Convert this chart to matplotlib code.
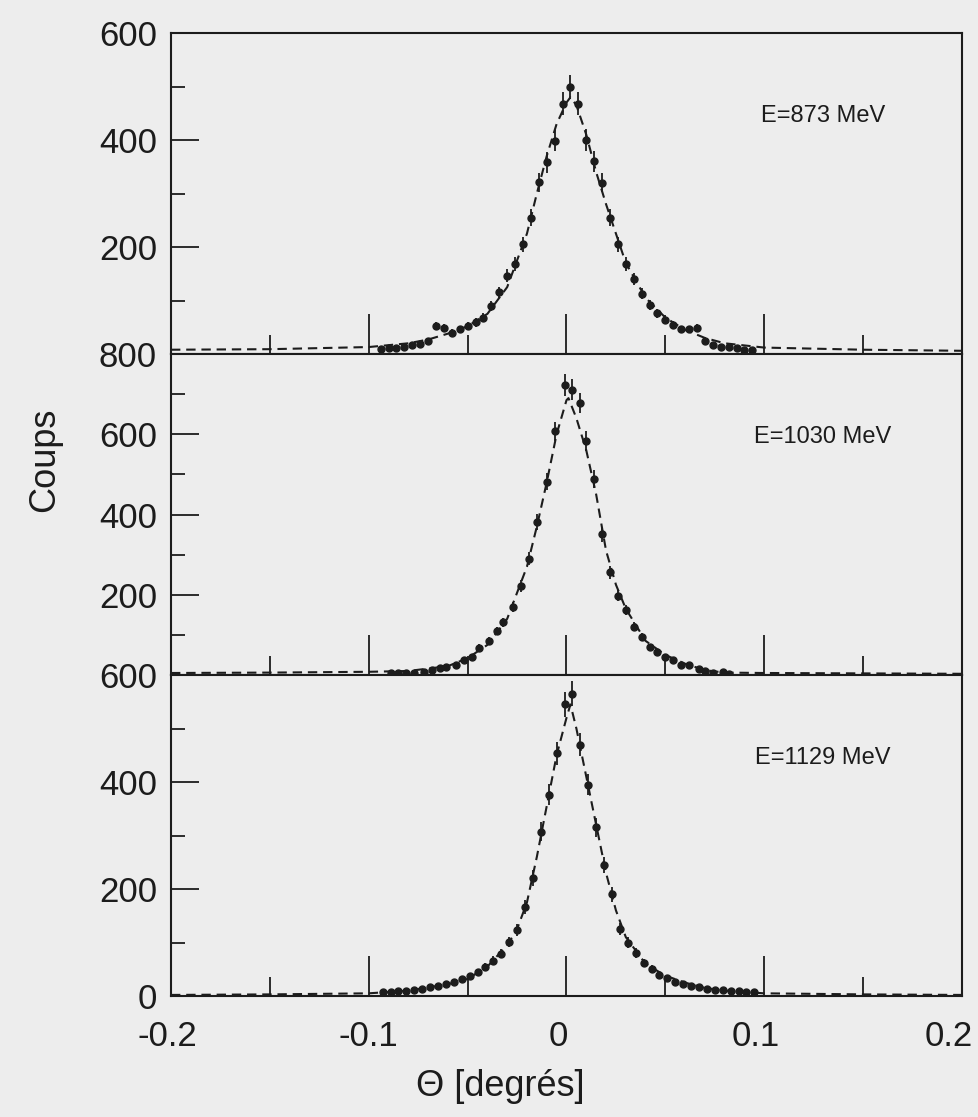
import numpy as np
import matplotlib
matplotlib.use("Agg")
import matplotlib.pyplot as plt
import matplotlib.transforms as mtransforms
from matplotlib.ticker import FixedLocator, MultipleLocator

# ---------------- data ----------------
labels = ["E=873 MeV", "E=1030 MeV", "E=1129 MeV"]

theta1 = [-0.094, -0.090, -0.086, -0.082, -0.078, -0.074, -0.070, -0.066, -0.062, -0.058,
          -0.054, -0.050, -0.046, -0.042, -0.038, -0.034, -0.030, -0.026, -0.022, -0.018,
          -0.014, -0.010, -0.006, -0.002, 0.002, 0.006, 0.010, 0.014, 0.018, 0.022,
          0.026, 0.030, 0.034, 0.038, 0.042, 0.046, 0.050, 0.054, 0.058, 0.062,
          0.066, 0.070, 0.074, 0.078, 0.082, 0.086, 0.090, 0.094]
counts1 = [10, 11, 12, 14, 17, 18, 25, 52, 49, 40,
           46, 53, 59, 68, 90, 115, 146, 168, 205, 255,
           321, 358, 399, 468, 499, 468, 400, 360, 320, 255,
           205, 168, 140, 113, 91, 76, 64, 55, 46, 46,
           49, 25, 16, 14, 13, 12, 8, 7]

theta2 = [-0.089, -0.085, -0.081, -0.077, -0.072, -0.068, -0.064, -0.061, -0.056, -0.052,
          -0.048, -0.044, -0.039, -0.035, -0.032, -0.027, -0.023, -0.019, -0.015, -0.010,
          -0.006, -0.001, 0.003, 0.007, 0.010, 0.014, 0.018, 0.022, 0.026, 0.030,
          0.034, 0.038, 0.042, 0.046, 0.050, 0.054, 0.058, 0.062, 0.067, 0.070,
          0.074, 0.079, 0.082]
counts2 = [4, 4, 4, 5, 8, 12, 17, 21, 26, 38,
           46, 68, 85, 110, 131, 169, 223, 290, 382, 482,
           607, 723, 711, 678, 583, 488, 351, 256, 198, 161,
           120, 95, 70, 58, 46, 38, 26, 26, 14, 10,
           6, 7, 3]

theta3 = [-0.093, -0.089, -0.085, -0.081, -0.077, -0.073, -0.069, -0.065, -0.061, -0.057,
          -0.053, -0.049, -0.045, -0.041, -0.037, -0.033, -0.029, -0.025, -0.021, -0.017,
          -0.013, -0.009, -0.005, -0.001, 0.003, 0.007, 0.011, 0.015, 0.019, 0.023,
          0.027, 0.031, 0.035, 0.039, 0.043, 0.047, 0.051, 0.055, 0.059, 0.063,
          0.067, 0.071, 0.075, 0.079, 0.083, 0.087, 0.091, 0.095]
counts3 = [7, 8, 9, 10, 12, 14, 16, 19, 23, 27,
           31, 37, 44, 54, 66, 79, 101, 123, 167, 220,
           307, 376, 454, 545, 565, 470, 395, 315, 245, 190,
           125, 100, 80, 62, 50, 40, 33, 27, 22, 19,
           17, 14, 12, 11, 10, 9, 8, 7]

fit_theta1 = [-0.2, -0.15, -0.1, -0.08, -0.07, -0.06, -0.05, -0.04, -0.03, -0.02, -0.015, -0.01,
              -0.005, 0.0, 0.002, 0.005, 0.01, 0.015, 0.02, 0.03, 0.04, 0.05, 0.06, 0.07, 0.08,
              0.1, 0.15, 0.2]
fit1 = [8, 9, 13, 20, 27, 38, 52, 75, 125, 225, 300, 370,
        430, 470, 480, 465, 410, 340, 280, 170, 105, 68, 45, 30, 20,
        12, 8, 6]

fit_theta2 = [-0.2, -0.15, -0.1, -0.08, -0.06, -0.05, -0.04, -0.03, -0.02, -0.015, -0.01, -0.005,
              0.0, 0.001, 0.005, 0.01, 0.015, 0.02, 0.025, 0.03, 0.04, 0.05, 0.06, 0.07, 0.08,
              0.1, 0.15, 0.2]
fit2 = [5, 6, 8, 10, 22, 42, 75, 140, 270, 370, 480, 600,
        685, 690, 640, 560, 450, 310, 225, 165, 85, 50, 28, 12, 6,
        5, 4, 3]

fit_theta3 = [-0.2, -0.15, -0.1, -0.08, -0.06, -0.05, -0.04, -0.03, -0.025, -0.02, -0.015, -0.01,
              -0.005, 0.0, 0.002, 0.005, 0.01, 0.015, 0.02, 0.025, 0.03, 0.04, 0.05, 0.06, 0.07,
              0.08, 0.1, 0.15, 0.2]
fit3 = [2, 3, 5, 10, 22, 32, 55, 95, 125, 175, 260, 355,
        450, 520, 545, 500, 410, 320, 230, 160, 110, 60, 38, 25, 15,
        10, 5, 3, 2]

ymax = [600, 800, 600]
ytick_labels = [["", "200", "400", "600"],
                ["", "200", "400", "600", "800"],
                ["0", "200", "400", "600"]]
xtick_vals = [-0.2, -0.1, 0, 0.1, 0.2]
xtick_labels = ["-0.2", "-0.1", "0", "0.1", "0.2"]

# ---------------- figure ----------------
BG = "#ededed"
INK = "#1c1c1c"
W, H = 979, 1117
fig = plt.figure(figsize=(W / 100, H / 100), dpi=100, facecolor=BG)
plt.rcParams["font.family"] = ["Liberation Sans", "DejaVu Sans"]

tops = [33, 354, 675]
bots = [354, 675, 996]
left_px, right_px = 171, 962

datasets = [(theta1, counts1, fit_theta1, fit1),
            (theta2, counts2, fit_theta2, fit2),
            (theta3, counts3, fit_theta3, fit3)]

for i, (th, cn, fth, fv) in enumerate(datasets):
    ax = fig.add_axes([left_px / W, 1 - bots[i] / H, (right_px - left_px) / W,
                       (bots[i] - tops[i]) / H])
    ax.set_facecolor(BG)
    ax.plot(fth, fv, linestyle=(0, (4.5, 2.8)), color=INK, lw=1.5, zorder=2)
    cn_arr = np.array(cn, dtype=float)
    ax.errorbar(th, cn, yerr=np.sqrt(cn_arr), fmt="o", ms=5, color=INK,
                mec=INK, elinewidth=1.3, capsize=0, zorder=3)
    ax.set_xlim(-0.2, 0.2)
    ax.set_ylim(0, ymax[i])
    ax.set_xticks(xtick_vals)
    ax.xaxis.set_minor_locator(FixedLocator([-0.15, -0.05, 0.05, 0.15]))
    ax.set_yticks(list(range(0, ymax[i] + 1, 200)))
    ax.yaxis.set_minor_locator(MultipleLocator(100))
    ax.set_yticklabels(ytick_labels[i])
    ax.tick_params(axis="x", which="major", direction="in", length=29, width=1.3,
                   top=False, bottom=True, color=INK)
    ax.tick_params(axis="x", which="minor", direction="in", length=14, width=1.3,
                   top=False, bottom=True, color=INK)
    ax.tick_params(axis="y", which="major", direction="in", length=20, width=1.3,
                   right=False, labelsize=25, pad=10, color=INK, labelcolor=INK)
    ax.tick_params(axis="y", which="minor", direction="in", length=10, width=1.3,
                   right=False, color=INK)
    if i < 2:
        ax.tick_params(axis="x", labelbottom=False)
    else:
        ax.set_xticklabels(xtick_labels)
        ax.tick_params(axis="x", labelsize=25, pad=17, labelcolor=INK)
        tls = ax.get_xticklabels()
        shifts = [-4, 0, -8, -8, -13]
        for tl, dx in zip(tls, shifts):
            tl.set_transform(tl.get_transform() +
                             mtransforms.ScaledTranslation(dx / 100, 0, fig.dpi_scale_trans))
    for s in ax.spines.values():
        s.set_linewidth(1.5)
        s.set_color(INK)
    ax.text(0.824, 0.74, labels[i], transform=ax.transAxes, ha="center", va="center",
            fontsize=17, color=INK)

fig.text(45 / W, 1 - 460 / H, "Coups", rotation=90, ha="center", va="center",
         fontsize=26, color=INK)
fig.text(500 / W, 1 - 1086 / H, "Θ [degrés]", ha="center", va="center",
         fontsize=26, color=INK)

fig.savefig("out.png", dpi=100, facecolor=BG)
